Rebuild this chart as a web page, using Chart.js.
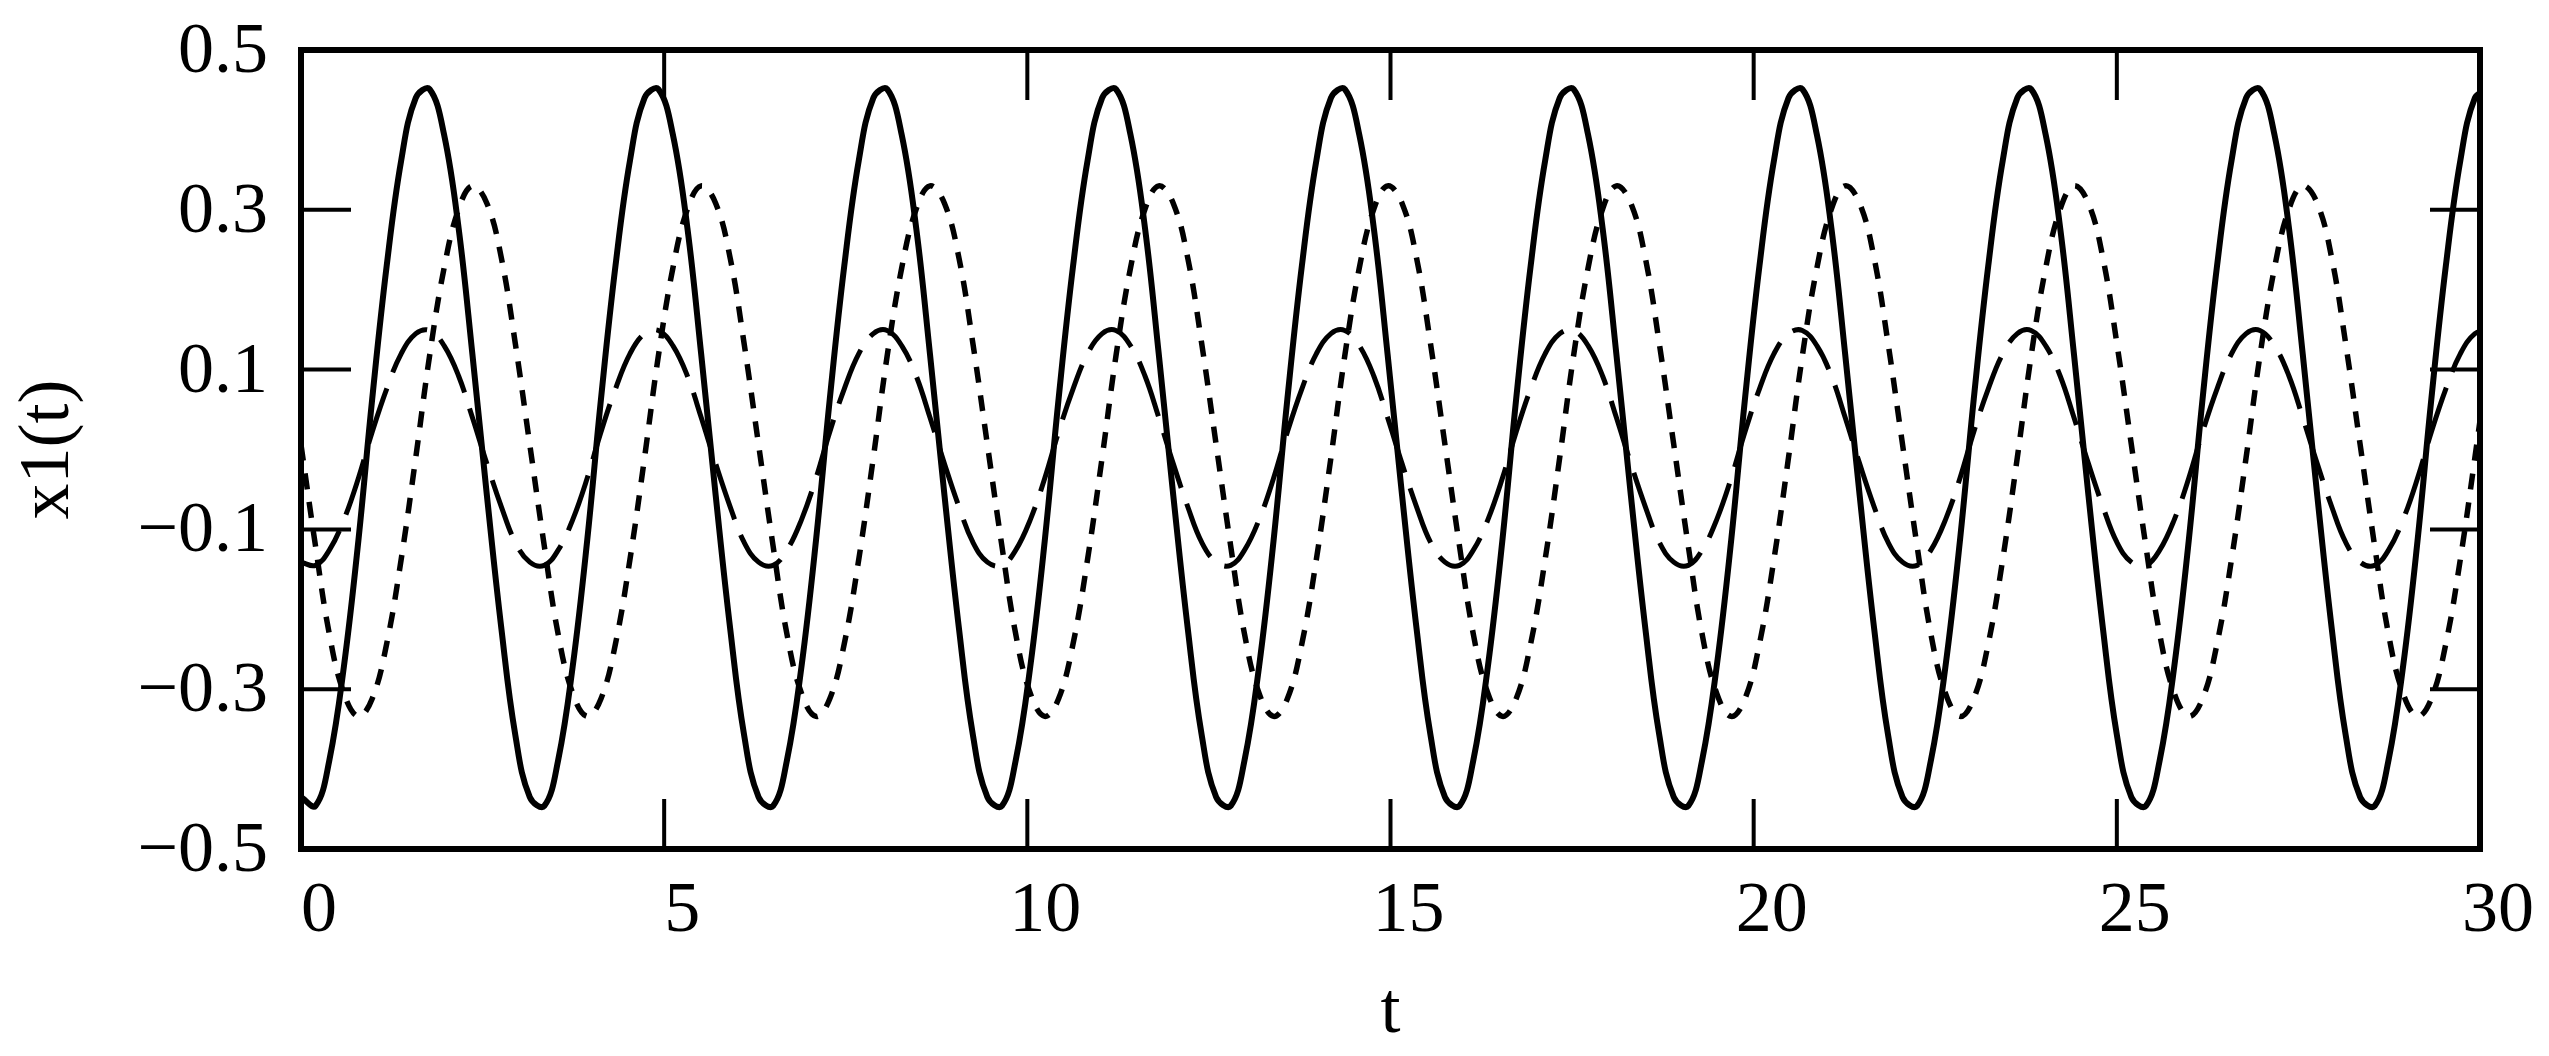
<!DOCTYPE html>
<html>
<head>
<meta charset="utf-8">
<script src="https://cdn.jsdelivr.net/npm/chart.js@4.4.1/dist/chart.umd.min.js"></script>
<style>
  html, body { margin: 0; padding: 0; background: #fff; }
  #wrap { width: 2549px; height: 1056px; }
</style>
</head>
<body>
<div id="wrap"><canvas id="plot" width="2549" height="1056"></canvas></div>
<script>
// ---------------------------------------------------------
// data (one row per oscillation period)
// ---------------------------------------------------------
const tVals = [
  0.00, 0.20, 0.39, 0.59, 0.79, 0.98, 1.18, 1.38, 1.58, 1.77, 1.97, 2.17, 2.36, 2.56, 2.76, 2.95,
  3.15, 3.35, 3.54, 3.74, 3.94, 4.13, 4.33, 4.53, 4.73, 4.92, 5.12, 5.32, 5.51, 5.71, 5.91, 6.10,
  6.30, 6.50, 6.69, 6.89, 7.09, 7.28, 7.48, 7.68, 7.88, 8.07, 8.27, 8.47, 8.66, 8.86, 9.06, 9.25,
  9.45, 9.65, 9.84, 10.04, 10.24, 10.43, 10.63, 10.83, 11.03, 11.22, 11.42, 11.62, 11.81, 12.01, 12.21, 12.40,
  12.60, 12.80, 12.99, 13.19, 13.39, 13.58, 13.78, 13.98, 14.18, 14.37, 14.57, 14.77, 14.96, 15.16, 15.36, 15.55,
  15.75, 15.95, 16.14, 16.34, 16.54, 16.73, 16.93, 17.13, 17.33, 17.52, 17.72, 17.92, 18.11, 18.31, 18.51, 18.70,
  18.90, 19.10, 19.29, 19.49, 19.69, 19.88, 20.08, 20.28, 20.48, 20.67, 20.87, 21.07, 21.26, 21.46, 21.66, 21.85,
  22.05, 22.25, 22.44, 22.64, 22.84, 23.03, 23.23, 23.43, 23.63, 23.82, 24.02, 24.22, 24.41, 24.61, 24.81, 25.00,
  25.20, 25.40, 25.59, 25.79, 25.99, 26.18, 26.38, 26.58, 26.78, 26.97, 27.17, 27.37, 27.56, 27.76, 27.96, 28.15,
  28.35, 28.55, 28.74, 28.94, 29.14, 29.33, 29.53, 29.73, 29.93, 30.12
];

// solid line (large amplitude)
const x1Solid = [
  -0.435, -0.446, -0.389, -0.272, -0.114, 0.063, 0.230, 0.362, 0.440, 0.451, 0.394, 0.277, 0.119, -0.058, -0.225, -0.357,
  -0.435, -0.446, -0.389, -0.272, -0.114, 0.063, 0.230, 0.362, 0.440, 0.451, 0.394, 0.277, 0.119, -0.058, -0.225, -0.357,
  -0.435, -0.446, -0.389, -0.272, -0.114, 0.063, 0.230, 0.362, 0.440, 0.451, 0.394, 0.277, 0.119, -0.058, -0.225, -0.357,
  -0.435, -0.446, -0.389, -0.272, -0.114, 0.063, 0.230, 0.362, 0.440, 0.451, 0.394, 0.277, 0.119, -0.058, -0.225, -0.357,
  -0.435, -0.446, -0.389, -0.272, -0.114, 0.063, 0.230, 0.362, 0.440, 0.451, 0.394, 0.277, 0.119, -0.058, -0.225, -0.357,
  -0.435, -0.446, -0.389, -0.272, -0.114, 0.063, 0.230, 0.362, 0.440, 0.451, 0.394, 0.277, 0.119, -0.058, -0.225, -0.357,
  -0.435, -0.446, -0.389, -0.272, -0.114, 0.063, 0.230, 0.362, 0.440, 0.451, 0.394, 0.277, 0.119, -0.058, -0.225, -0.357,
  -0.435, -0.446, -0.389, -0.272, -0.114, 0.063, 0.230, 0.362, 0.440, 0.451, 0.394, 0.277, 0.119, -0.058, -0.225, -0.357,
  -0.435, -0.446, -0.389, -0.272, -0.114, 0.063, 0.230, 0.362, 0.440, 0.451, 0.394, 0.277, 0.119, -0.058, -0.225, -0.357,
  -0.435, -0.446, -0.389, -0.272, -0.114, 0.063, 0.230, 0.362, 0.440, 0.451
];

// long-dash line (small amplitude, in phase with solid)
const x1Dash = [
  -0.141, -0.145, -0.126, -0.088, -0.036, 0.022, 0.076, 0.120, 0.145, 0.149, 0.130, 0.092, 0.040, -0.018, -0.072, -0.116,
  -0.141, -0.145, -0.126, -0.088, -0.036, 0.022, 0.076, 0.120, 0.145, 0.149, 0.130, 0.092, 0.040, -0.018, -0.072, -0.116,
  -0.141, -0.145, -0.126, -0.088, -0.036, 0.022, 0.076, 0.120, 0.145, 0.149, 0.130, 0.092, 0.040, -0.018, -0.072, -0.116,
  -0.141, -0.145, -0.126, -0.088, -0.036, 0.022, 0.076, 0.120, 0.145, 0.149, 0.130, 0.092, 0.040, -0.018, -0.072, -0.116,
  -0.141, -0.145, -0.126, -0.088, -0.036, 0.022, 0.076, 0.120, 0.145, 0.149, 0.130, 0.092, 0.040, -0.018, -0.072, -0.116,
  -0.141, -0.145, -0.126, -0.088, -0.036, 0.022, 0.076, 0.120, 0.145, 0.149, 0.130, 0.092, 0.040, -0.018, -0.072, -0.116,
  -0.141, -0.145, -0.126, -0.088, -0.036, 0.022, 0.076, 0.120, 0.145, 0.149, 0.130, 0.092, 0.040, -0.018, -0.072, -0.116,
  -0.141, -0.145, -0.126, -0.088, -0.036, 0.022, 0.076, 0.120, 0.145, 0.149, 0.130, 0.092, 0.040, -0.018, -0.072, -0.116,
  -0.141, -0.145, -0.126, -0.088, -0.036, 0.022, 0.076, 0.120, 0.145, 0.149, 0.130, 0.092, 0.040, -0.018, -0.072, -0.116,
  -0.141, -0.145, -0.126, -0.088, -0.036, 0.022, 0.076, 0.120, 0.145, 0.149
];

// dotted line (lags the solid one)
const x1Dot = [
  0.006, -0.121, -0.231, -0.305, -0.334, -0.312, -0.243, -0.137, -0.010, 0.117, 0.227, 0.301, 0.330, 0.308, 0.239, 0.133,
  0.006, -0.121, -0.231, -0.305, -0.334, -0.312, -0.243, -0.137, -0.010, 0.117, 0.227, 0.301, 0.330, 0.308, 0.239, 0.133,
  0.006, -0.121, -0.231, -0.305, -0.334, -0.312, -0.243, -0.137, -0.010, 0.117, 0.227, 0.301, 0.330, 0.308, 0.239, 0.133,
  0.006, -0.121, -0.231, -0.305, -0.334, -0.312, -0.243, -0.137, -0.010, 0.117, 0.227, 0.301, 0.330, 0.308, 0.239, 0.133,
  0.006, -0.121, -0.231, -0.305, -0.334, -0.312, -0.243, -0.137, -0.010, 0.117, 0.227, 0.301, 0.330, 0.308, 0.239, 0.133,
  0.006, -0.121, -0.231, -0.305, -0.334, -0.312, -0.243, -0.137, -0.010, 0.117, 0.227, 0.301, 0.330, 0.308, 0.239, 0.133,
  0.006, -0.121, -0.231, -0.305, -0.334, -0.312, -0.243, -0.137, -0.010, 0.117, 0.227, 0.301, 0.330, 0.308, 0.239, 0.133,
  0.006, -0.121, -0.231, -0.305, -0.334, -0.312, -0.243, -0.137, -0.010, 0.117, 0.227, 0.301, 0.330, 0.308, 0.239, 0.133,
  0.006, -0.121, -0.231, -0.305, -0.334, -0.312, -0.243, -0.137, -0.010, 0.117, 0.227, 0.301, 0.330, 0.308, 0.239, 0.133,
  0.006, -0.121, -0.231, -0.305, -0.334, -0.312, -0.243, -0.137, -0.010, 0.117
];

const xTicks = [0, 5, 10, 15, 20, 25, 30];
const yTicks = [-0.5, -0.3, -0.1, 0.1, 0.3, 0.5];

// ---------------------------------------------------------
// frame + inward tick marks (mathcad style box)
// ---------------------------------------------------------
const frameTicks = {
  id: "frameTicks",
  afterDraw(chart) {
    const { ctx, chartArea: a, scales } = chart;
    const len = 50;
    ctx.save();
    ctx.strokeStyle = "#000";
    ctx.lineCap = "butt";

    ctx.lineWidth = 4;
    ctx.beginPath();
    yTicks.forEach((v) => {
      const y = scales.y.getPixelForValue(v);
      ctx.moveTo(a.left, y); ctx.lineTo(a.left + len, y);
      ctx.moveTo(a.right, y); ctx.lineTo(a.right - len, y);
    });
    xTicks.forEach((v) => {
      const x = scales.x.getPixelForValue(v);
      ctx.moveTo(x, a.bottom); ctx.lineTo(x, a.bottom - len);
      ctx.moveTo(x, a.top); ctx.lineTo(x, a.top + len);
    });
    ctx.stroke();

    ctx.lineWidth = 6;
    ctx.lineJoin = "miter";
    ctx.strokeRect(a.left, a.top, a.right - a.left, a.bottom - a.top);
    ctx.restore();
  },
};

const fmt = (v) => (v < 0 ? "\u2212" + Math.abs(v).toFixed(1) : v.toFixed(1));
const serif = "'Liberation Serif', 'DejaVu Serif', serif";

new Chart(document.getElementById("plot"), {
  type: "line",
  data: {
    datasets: [
      {
        data: tVals.map((t, i) => ({ x: t, y: x1Solid[i] })),
        borderColor: "#000",
        borderWidth: 6,
        tension: 0.4,
      },
      {
        data: tVals.map((t, i) => ({ x: t, y: x1Dash[i] })),
        borderColor: "#000",
        borderWidth: 5,
        borderDash: [58, 17],
        tension: 0.4,
      },
      {
        data: tVals.map((t, i) => ({ x: t, y: x1Dot[i] })),
        borderColor: "#000",
        borderWidth: 5.5,
        borderDash: [16, 13],
        tension: 0.4,
      },
    ],
  },
  options: {
    responsive: false,
    animation: false,
    devicePixelRatio: 1,
    layout: { padding: { top: 50, right: 69, left: 0, bottom: 0 } },
    elements: { point: { radius: 0 } },
    plugins: { legend: { display: false }, tooltip: { enabled: false } },
    scales: {
      x: {
        type: "linear",
        min: 0,
        max: 30,
        afterBuildTicks: (s) => { s.ticks = xTicks.map((v) => ({ value: v })); },
        afterFit: (s) => { s.height = 207; },
        grid: { display: false, drawTicks: false },
        border: { display: false },
        ticks: {
          color: "#000",
          font: { family: serif, size: 72 },
          padding: 20,
          labelOffset: 18,
          maxRotation: 0,
        },
        title: {
          display: true,
          text: "t",
          color: "#000",
          font: { family: serif, size: 72 },
          padding: { top: 0, bottom: 0 },
        },
      },
      y: {
        min: -0.5,
        max: 0.5,
        afterBuildTicks: (s) => { s.ticks = yTicks.map((v) => ({ value: v })); },
        afterFit: (s) => { s.width = 301; },
        grid: { display: false, drawTicks: false },
        border: { display: false },
        ticks: {
          color: "#000",
          font: { family: serif, size: 72, lineHeight: 0.4 },
          padding: 33,
          labelOffset: 3,
          callback: (v) => fmt(v),
        },
        title: {
          display: true,
          text: "x1(t)",
          color: "#000",
          font: { family: serif, size: 72 },
          padding: { top: 6, bottom: 0 },
        },
      },
    },
  },
  plugins: [frameTicks],
});
</script>
</body>
</html>
